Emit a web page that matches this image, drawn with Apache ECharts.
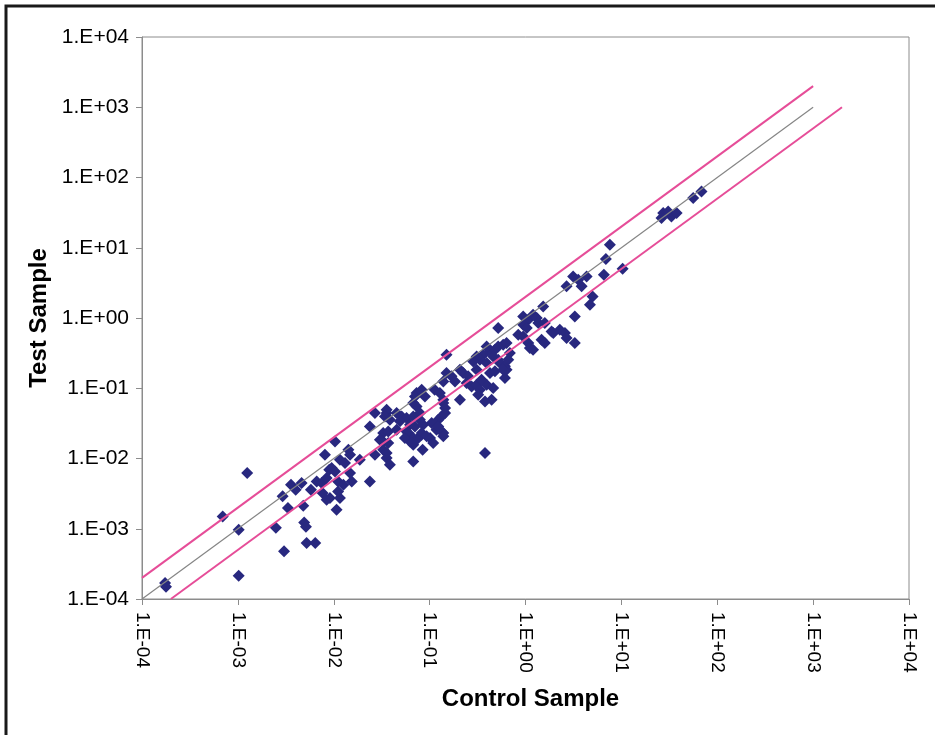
<!DOCTYPE html>
<html>
<head>
<meta charset="utf-8">
<script src="https://cdn.jsdelivr.net/npm/echarts@6/dist/echarts.min.js"></script>
<style>
html,body{margin:0;padding:0;background:#fff;}
#chart{width:935px;height:735px;}
</style>
</head>
<body>
<div id="chart"></div>
<script>
// Scatter: Control Sample (x) vs Test Sample (y)
var controlSample = [
  1.74e-4,1.78e-4,6.94e-4,1.02e-3,1.02e-3,1.25e-3,2.49e-3,3.03e-3,2.93e-3,3.33e-3,
  3.58e-3,4.01e-3,4.62e-3,4.81e-3,4.92e-3,5.13e-3,5.21e-3,6.41e-3,5.78e-3,6.64e-3,
  7.48e-3,8.43e-3,7.65e-3,8.43e-3,8.97e-3,8.09e-3,1.07e-2,9.12e-3,1.16e-2,1.11e-2,
  1.11e-2,1.26e-2,1.54e-2,2.38e-2,9.51e-3,1.03e-2,1.48e-2,1.16e-2,1.31e-2,1.87e-2,
  2.69e-2,3.56e-2,3.85e-2,1.42e-2,1.48e-2,1.03e-2,2.38e-2,3.28e-2,3.70e-2,2.69e-2,
  3.56e-2,3.28e-2,3.70e-2,4.53e-2,4.53e-2,5.11e-2,5.75e-2,6.24e-2,7.03e-2,7.93e-2,
  0.105,0.123,0.145,0.118,0.139,5.98e-2,6.75e-2,7.31e-2,8.26e-2,0.101,
  6.24e-2,8.45e-2,6.75e-2,7.31e-2,8.26e-2,8.93e-2,0.113,0.128,0.139,6.75e-2,
  0.150,0.362,0.426,0.480,0.519,0.585,0.635,0.335,0.393,0.541,
  0.610,0.309,0.426,0.635,0.207,0.224,0.252,0.150,0.169,0.184,
  0.139,0.243,0.274,0.309,0.335,0.321,0.393,0.460,0.443,0.610,
  0.207,0.378,0.139,7.03e-2,0.145,0.133,7.31e-2,7.93e-2,6.75e-2,3.56e-2,
  3.42e-2,3.85e-2,4.90e-2,5.75e-2,8.57e-2,0.123,0.133,0.139,5.52e-2,6.75e-2,
  8.26e-2,9.31e-2,0.109,0.378,3.28e-2,3.56e-2,3.03e-2,1.53,0.946,1.07,
  1.20,1.31,1.36,0.946,1.03,1.59,0.519,3.27,1.87,2.28,
  2.58,2.68,3.27,0.840,0.946,1.07,1.11,1.20,1.47,1.59,
  0.687,0.393,0.309,0.285,0.460,0.519,0.661,0.480,0.585,0.348,
  7.59,6.89,10.3,6.57,3.14,3.55,4.34,3.85,2.68,5.01,
  4.70,1.95,56.1,68.5,27.3,30.8,33.3,37.7,26.2
];
var testSample = [
  1.69e-4,1.50e-4,1.50e-3,9.7e-4,2.15e-4,6.22e-3,1.03e-3,4.77e-4,2.89e-3,1.97e-3,
  4.24e-3,3.60e-3,4.48e-3,2.13e-3,1.23e-3,1.07e-3,6.26e-4,6.26e-4,3.60e-3,4.72e-3,
  4.48e-3,5.27e-3,3.23e-3,2.59e-3,6.93e-3,1.13e-2,1.87e-3,2.74e-3,2.74e-3,3.40e-3,
  4.72e-3,4.24e-3,4.72e-3,4.72e-3,7.33e-3,6.55e-3,6.22e-3,9.62e-3,8.63e-3,9.62e-3,
  1.13e-2,1.02e-2,8.17e-3,1.33e-2,1.13e-2,1.75e-2,2.86e-2,2.31e-2,2.43e-2,4.45e-2,
  4.45e-2,1.75e-2,1.66e-2,2.57e-2,4.45e-2,3.97e-2,3.78e-2,3.03e-2,2.86e-2,3.56e-2,
  3.20e-2,3.56e-2,4.45e-2,2.57e-2,2.31e-2,2.31e-2,1.96e-2,1.85e-2,2.18e-2,1.96e-2,
  1.75e-2,1.33e-2,9.10e-3,8.55e-2,9.53e-2,7.66e-2,9.53e-2,8.55e-2,6.87e-2,6.17e-2,
  0.301,0.301,0.335,0.354,0.394,0.417,0.441,0.255,0.229,0.229,
  0.205,0.184,0.165,0.184,0.184,0.165,0.148,0.165,0.148,0.125,
  0.125,0.119,0.106,0.112,9.53e-2,8.09e-2,0.112,0.101,6.87e-2,0.140,
  6.87e-2,6.50e-2,6.17e-2,7.66e-2,5.24e-2,3.97e-2,5.52e-2,4.45e-2,3.97e-2,4.95e-2,
  3.97e-2,3.56e-2,3.38e-2,2.43e-2,3.03e-2,2.86e-2,2.43e-2,2.07e-2,1.96e-2,1.57e-2,
  2.31e-2,2.07e-2,1.66e-2,1.20e-2,1.33e-2,1.20e-2,1.85e-2,1.46,1.05,0.946,
  1.11,1.00,0.849,0.804,0.721,0.849,0.721,1.05,0.644,0.683,
  0.611,0.519,0.441,0.578,0.547,0.441,0.374,0.354,0.491,0.441,
  0.318,0.394,0.284,0.241,0.284,0.255,0.255,0.174,0.184,0.132,
  11.0,6.92,5.03,4.13,3.91,3.51,3.91,2.82,2.82,2.03,
  1.55,0.611,51.1,63.4,31.3,32.9,27.9,31.3,26.5
];
// Reference lines: equality (y = x) and two-fold bounds
var equalityLine = [[1e-4, 1e-4], [1e3, 1e3]];
var upperBound = [[1e-4, 2e-4], [1e3, 2e3]];
var lowerBound = [[2e-4, 1e-4], [2e3, 1e3]];
var axisMin = 1e-4, axisMax = 1e4;
var xTitle = 'Control Sample';
var yTitle = 'Test Sample';

function fmt(v) {
  var e = Math.round(Math.log10(v));
  var s = e < 0 ? '-' : '+';
  var a = Math.abs(e);
  return '1.E' + s + (a < 10 ? '0' + a : '' + a);
}

var points = controlSample.map(function (x, i) { return [x, testSample[i]]; });

var chart = echarts.init(document.getElementById('chart'), null, {renderer: 'canvas'});
var font = '"Liberation Sans", Arial, sans-serif';
chart.setOption({
  animation: false,
  backgroundColor: '#ffffff',
  grid: {left: 142, top: 37, right: 26, bottom: 136, show: true, borderColor: '#8c8c8c', borderWidth: 1, backgroundColor: 'transparent'},
  xAxis: {
    type: 'log', logBase: 10, min: axisMin, max: axisMax, splitNumber: 8,
    name: xTitle, nameLocation: 'middle', nameGap: 88,
    nameTextStyle: {fontFamily: font, fontWeight: 'bold', fontSize: 24, color: '#000', padding: [0, 0, 0, 10]},
    axisLine: {show: true, lineStyle: {color: '#8c8c8c', width: 1}},
    axisTick: {show: true, inside: false, length: 6, lineStyle: {color: '#8c8c8c'}},
    minorTick: {show: false},
    splitLine: {show: false},
    axisLabel: {rotate: -90, margin: 13, fontFamily: font, fontSize: 19, color: '#000', formatter: fmt, showMinLabel: true, showMaxLabel: true}
  },
  yAxis: {
    type: 'log', logBase: 10, min: axisMin, max: axisMax, splitNumber: 8,
    name: yTitle, nameLocation: 'middle', nameGap: 90, nameRotate: 90,
    nameTextStyle: {fontFamily: font, fontWeight: 'bold', fontSize: 24, color: '#000', padding: [0, 0, 0, 0]},
    axisLine: {show: true, lineStyle: {color: '#8c8c8c', width: 1}},
    axisTick: {show: true, inside: false, length: 6, lineStyle: {color: '#8c8c8c'}},
    minorTick: {show: false},
    splitLine: {show: false},
    axisLabel: {margin: 13, fontFamily: font, fontSize: 21, color: '#000', formatter: fmt, showMinLabel: true, showMaxLabel: true}
  },
  graphic: [{
    type: 'polyline', silent: true,
    shape: {points: [[6, 735], [6, 6], [935, 6]]},
    style: {stroke: '#1a1a1a', lineWidth: 3, fill: null}
  }],
  series: [
    {type: 'scatter', data: points, symbol: 'diamond', symbolSize: [12, 12],
     itemStyle: {color: '#28287f', opacity: 1}, z: 2},
    {type: 'line', data: equalityLine, symbol: 'none', z: 3,
     lineStyle: {color: '#858585', width: 1.2}},
    {type: 'line', data: upperBound, symbol: 'none', z: 3,
     lineStyle: {color: '#e64d98', width: 2}},
    {type: 'line', data: lowerBound, symbol: 'none', z: 3,
     lineStyle: {color: '#e64d98', width: 2}}
  ]
});
</script>
</body>
</html>
